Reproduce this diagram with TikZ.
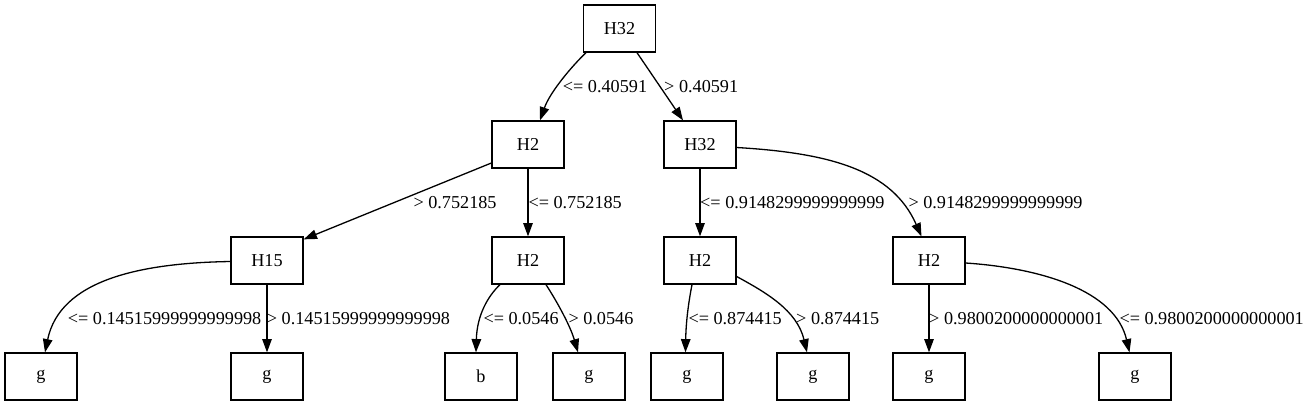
\documentclass[tikz,border=0pt]{standalone}
\usepackage{fontspec}
\setmainfont{Liberation Serif}
\usetikzlibrary{arrows.meta}
\begin{document}
\begin{tikzpicture}[x=1pt,y=-1pt,
  box/.style={draw,line width=1.3pt,minimum width=72pt,minimum height=47pt,inner sep=0pt,font=\fontsize{18.2}{22}\selectfont},
  elabel/.style={anchor=base west,inner sep=0pt,font=\fontsize{18.2}{22}\selectfont},
  edge/.style={line width=1.3pt,-{Triangle[length=13.3pt,width=9.5pt]}}]
\useasboundingbox[fill=white] (0,0) rectangle (1309,407);
% nodes
\node[box] (r) at (619.5,28.5) {H32};
\node[box] (a) at (528,144.5) {H2};
\node[box] (b) at (700,144.5) {H32};
\node[box] (c) at (267,260.5) {H15};
\node[box] (d) at (528,260.5) {H2};
\node[box] (e) at (700,260.5) {H2};
\node[box] (f) at (929,260.5) {H2};
\node[box] (l1) at (41,376.5) {g};
\node[box] (l2) at (267,376.5) {g};
\node[box] (l3) at (481,376.5) {b};
\node[box] (l4) at (589,376.5) {g};
\node[box] (l5) at (687,376.5) {g};
\node[box] (l6) at (813,376.5) {g};
\node[box] (l7) at (929,376.5) {g};
\node[box] (l8) at (1135,376.5) {g};
% edges
\draw[edge] ([xshift=-33.5pt]r.south) .. controls (572,66) and (550,92) .. ([xshift=12pt]a.north);
\draw[edge] ([xshift=17.5pt]r.south) -- ([xshift=-17pt]b.north);
\draw[edge] ([yshift=-18.5pt]a.west) -- ([yshift=-3pt]c.north east);
\draw[edge] (a.south) -- (d.north);
\draw[edge] (b.south) -- (e.north);
\draw[edge] ([yshift=-3pt]b.east) .. controls (830,153) and (892,170) .. ([xshift=-7.5pt]f.north);
\draw[edge] ([yshift=-1pt]c.west) .. controls (140,263) and (60,280) .. ([xshift=4pt]l1.north);
\draw[edge] (c.south) -- (l2.north);
\draw[edge] ([xshift=-28pt]d.south) .. controls (488,296) and (477,315) .. ([xshift=-5pt]l3.north);
\draw[edge] ([xshift=18pt]d.south) .. controls (556,300) and (570,325) .. ([xshift=-11pt]l4.north);
\draw[edge] ([xshift=-8pt]e.south) .. controls (689,300) and (686,320) .. ([xshift=-1.5pt]l5.north);
\draw[edge] ([yshift=-16pt]e.east) .. controls (765,292) and (797,310) .. ([xshift=-6pt]l6.north);
\draw[edge] (f.south) -- (l7.north);
\draw[edge] ([yshift=-2.5pt]f.east) .. controls (1040,268) and (1115,290) .. ([xshift=-5.5pt]l8.north);
% labels
\node[elabel] (t1) at (562.7,92.5) {<= 0.40591};
\node[elabel] (t2) at (664,92.5) {> 0.40591};
\node[elabel] (t3) at (413.3,208.5) {> 0.752185};
\node[elabel] (t4) at (528.3,208.5) {<= 0.752185};
\node[elabel] (t5) at (700,208.5) {<= 0.9148299999999999};
\node[elabel] (t6) at (908.3,208.5) {> 0.9148299999999999};
\node[elabel] (t7) at (67.7,324.5) {<= 0.14515999999999998};
\node[elabel] (t8) at (266.7,324.5) {> 0.14515999999999998};
\node[elabel] (t9) at (483.3,324.5) {<= 0.0546};
\node[elabel] (t10) at (568.3,324.5) {> 0.0546};
\node[elabel] (t11) at (688.3,324.5) {<= 0.874415};
\node[elabel] (t12) at (796,324.5) {> 0.874415};
\node[elabel] (t13) at (929,324.5) {> 0.9800200000000001};
\node[elabel] (t14) at (1119.3,324.5) {<= 0.9800200000000001};
\end{tikzpicture}
\end{document}
